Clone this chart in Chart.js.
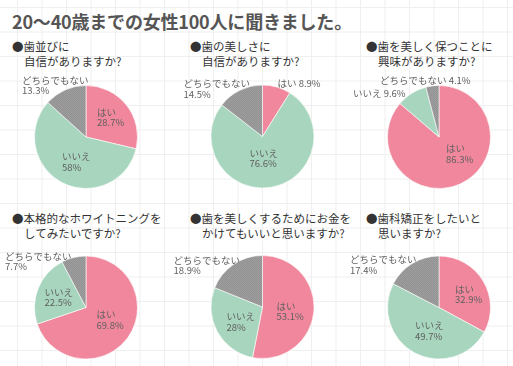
<!DOCTYPE html>
<html lang="ja">
<head>
<meta charset="utf-8">
<script src="https://cdn.jsdelivr.net/npm/chart.js@4/dist/chart.umd.min.js"></script>
<style>
  html, body { margin: 0; padding: 0; }
  body {
    width: 513px; height: 366px; position: relative; overflow: hidden;
    background-color: #fff;
    background-image:
      linear-gradient(to right, #efefef 1px, transparent 1px),
      linear-gradient(to bottom, #efefef 1px, transparent 1px);
    background-size: 24.5px 24.5px;
    background-position: 17px 7px;
    font-family: "Noto Sans CJK JP", "Noto Sans", sans-serif;
  }
  #title {
    position: absolute; left: 12px; top: 8px;
    font-size: 18px; font-weight: bold; color: #555; white-space: nowrap;
    letter-spacing: -0.2px;
  }
  .q {
    position: absolute; font-size: 11.5px; color: #333; line-height: 15px; white-space: nowrap;
  }
  .q span { display: block; }
  .q span + span { padding-left: 12px; }
  canvas { position: absolute; }
</style>
</head>
<body>
<div id="title">20〜40歳までの女性100人に聞きました。</div>
<script>
// answer categories (same order in every pie, clockwise from 12 o'clock)
const answers = ['はい', 'いいえ', 'どちらでもない'];

// question titles
const questions = [
    ['●歯並びに', '自信がありますか?'],
    ['●歯の美しさに', '自信がありますか?'],
    ['●歯を美しく保つことに', '興味がありますか?'],
    ['●本格的なホワイトニングを', 'してみたいですか?'],
    ['●歯を美しくするためにお金を', 'かけてもいいと思いますか?'],
    ['●歯科矯正をしたいと', '思いますか?']
];

// shares in percent: はい, いいえ, どちらでもない
const q1 = [28.7, 58, 13.3];
const q2 = [8.9, 76.6, 14.5];
const q3 = [86.3, 9.6, 4.1];
const q4 = [69.8, 22.5, 7.7];
const q5 = [53.1, 28, 18.9];
const q6 = [32.9, 49.7, 17.4];
const allShares = [q1, q2, q3, q4, q5, q6];

// layout
const R = 51.5;
const cells = [
    { x: 0,   y: 30,  w: 171, h: 165, cx: 86,    cy: 137,   tx: 12,  ty: 39 },
    { x: 171, y: 30,  w: 171, h: 165, cx: 262.5, cy: 136.5, tx: 190, ty: 39 },
    { x: 342, y: 30,  w: 171, h: 165, cx: 439,   cy: 137,   tx: 366, ty: 39 },
    { x: 0,   y: 195, w: 171, h: 171, cx: 86,    cy: 307.5, tx: 12,  ty: 211 },
    { x: 171, y: 195, w: 171, h: 171, cx: 262.5, cy: 307,   tx: 190, ty: 211 },
    { x: 342, y: 195, w: 171, h: 171, cx: 439,   cy: 307.5, tx: 366, ty: 211 }
];
// label block offsets from pie centre: [left x, middle of first line y, one line?]
const labelSpots = [
    [[11, -25], [-24, 19.5], [-64, -57]],
    [[15, -53.5, true], [-13, 16.5], [-79, -53]],
    [[7, 11.5], [-86, -43.5, true], [-59, -57, true]],
    [[10.5, 7], [-41.5, -15.5], [-81, -51.5]],
    [[14, -1], [-36, 9.5], [-89, -47]],
    [[16, -18.5], [-24, 18], [-89, -48]]
];

function hatch() {
    const c = document.createElement('canvas');
    c.width = 2; c.height = 2;
    const g = c.getContext('2d');
    g.fillStyle = '#9d9d9d';
    g.fillRect(0, 0, 2, 2);
    g.fillStyle = '#939393';
    g.fillRect(0, 0, 1, 1);
    g.fillRect(1, 1, 1, 1);
    return g.createPattern(c, 'repeat');
}
const grayFill = hatch();

const sliceLabels = {
    id: 'sliceLabels',
    afterDatasetsDraw(chart, args, opts) {
        const ctx = chart.ctx;
        const arcs = chart.getDatasetMeta(0).data;
        const data = chart.data.datasets[0].data;
        ctx.save();
        ctx.font = '9.5px "Noto Sans CJK JP", sans-serif';
        ctx.fillStyle = '#606060';
        ctx.textBaseline = 'middle';
        ctx.textAlign = 'left';
        arcs.forEach((arc, i) => {
            const spot = opts.spots[i];
            const x = arc.x + spot[0];
            const y = arc.y + spot[1];
            const pct = data[i] + '%';
            if (spot[2]) {
                ctx.fillText(chart.data.labels[i] + ' ' + pct, x, y);
            } else {
                ctx.fillText(chart.data.labels[i], x, y);
                ctx.fillText(pct, x, y + 10.5);
            }
        });
        ctx.restore();
    }
};

cells.forEach((cell, k) => {
    const q = document.createElement('div');
    q.className = 'q';
    q.style.left = cell.tx + 'px';
    q.style.top = cell.ty + 'px';
    q.innerHTML = questions[k].map(s => '<span>' + s + '</span>').join('');
    document.body.appendChild(q);

    const cv = document.createElement('canvas');
    cv.style.left = cell.x + 'px';
    cv.style.top = cell.y + 'px';
    cv.style.width = cell.w + 'px';
    cv.style.height = cell.h + 'px';
    document.body.appendChild(cv);

    const bw = 1;
    const half = R + bw / 2;
    new Chart(cv, {
        type: 'pie',
        data: {
            labels: answers,
            datasets: [{
                data: allShares[k],
                backgroundColor: ['#f0879c', '#a8d5be', grayFill],
                borderColor: 'rgba(255,255,255,0.6)',
                borderWidth: bw
            }]
        },
        options: {
            responsive: false,
            animation: false,
            layout: {
                padding: {
                    left: cell.cx - half - cell.x,
                    right: cell.x + cell.w - (cell.cx + half),
                    top: cell.cy - half - cell.y,
                    bottom: cell.y + cell.h - (cell.cy + half)
                }
            },
            plugins: {
                legend: { display: false },
                tooltip: { enabled: false },
                sliceLabels: { spots: labelSpots[k] }
            }
        },
        plugins: [sliceLabels]
    });
});
</script>
</body>
</html>
